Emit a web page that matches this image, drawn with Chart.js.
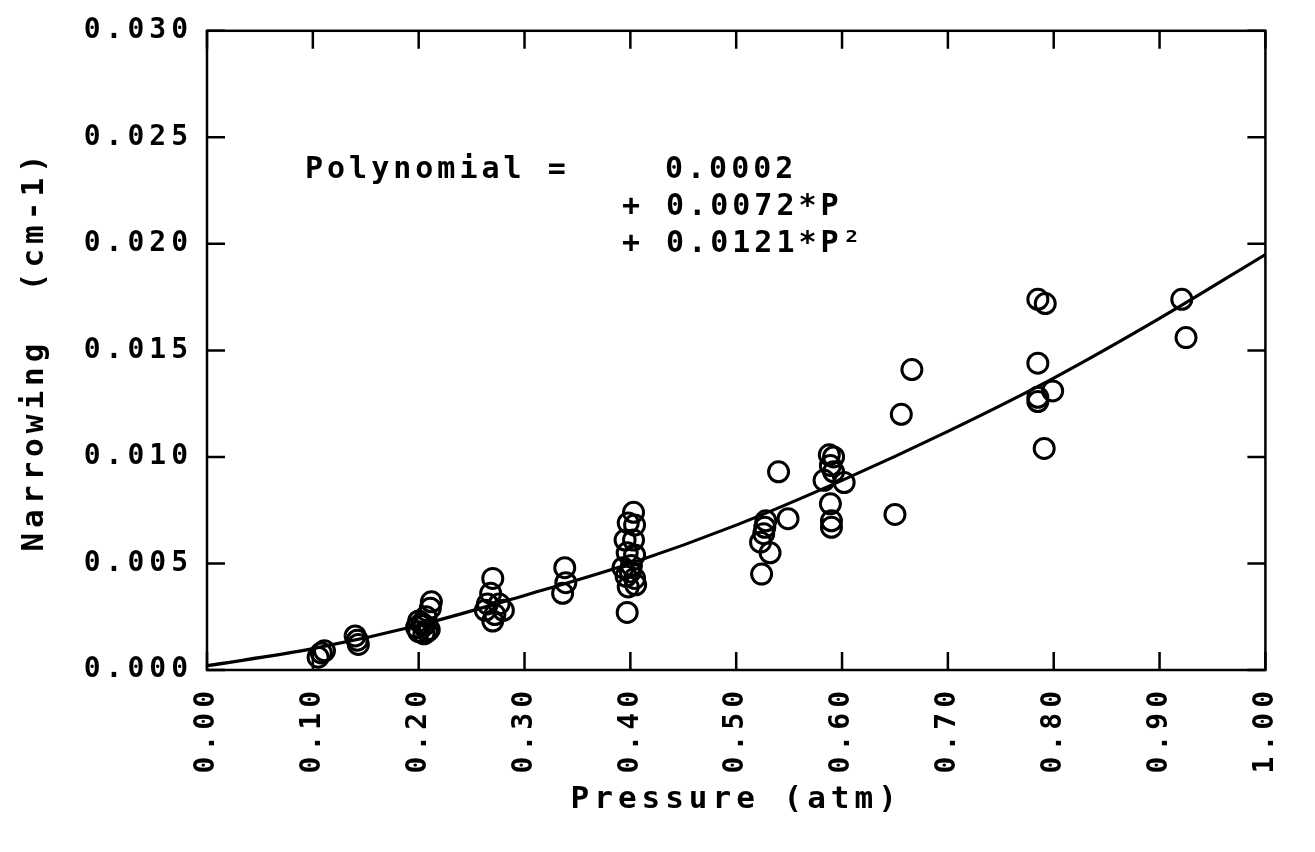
<!DOCTYPE html>
<html>
<head>
<meta charset="utf-8">
<script src="https://cdn.jsdelivr.net/npm/chart.js@4.4.1/dist/chart.umd.min.js"></script>
<style>
  html, body { margin: 0; padding: 0; background: #fff; }
</style>
</head>
<body>
<canvas id="chart" width="1315" height="852"></canvas>
<script>
// measured points
const pressure = [
  0.105, 0.108, 0.111,
  0.140, 0.142, 0.143,
  0.212, 0.211, 0.207, 0.200, 0.205, 0.198, 0.210, 0.200, 0.205, 0.203, 0.208,
  0.270, 0.268, 0.265, 0.276, 0.280, 0.263, 0.270, 0.272,
  0.338, 0.339, 0.336,
  0.403, 0.398, 0.404, 0.395, 0.403, 0.397, 0.404, 0.393, 0.401, 0.396, 0.404, 0.398, 0.405, 0.400, 0.397,
  0.540, 0.549, 0.528, 0.527, 0.526, 0.523, 0.532, 0.524,
  0.588, 0.592, 0.589, 0.583, 0.602, 0.592, 0.589, 0.590, 0.590,
  0.650, 0.656, 0.666,
  0.785, 0.792, 0.785, 0.799, 0.785, 0.785, 0.791,
  0.921, 0.925
];
const narrowing = [
  0.0006, 0.0008, 0.0009,
  0.0016, 0.0014, 0.0012,
  0.0032, 0.0029, 0.0025, 0.0023, 0.0021, 0.0020, 0.0019, 0.0018, 0.0017, 0.0022, 0.0018,
  0.0043, 0.0036, 0.0031, 0.0031, 0.0028, 0.0028, 0.0023, 0.0026,
  0.0048, 0.0041, 0.0036,
  0.0074, 0.0069, 0.0068, 0.0061, 0.0061, 0.0055, 0.0054, 0.0048, 0.0049, 0.0044, 0.0043, 0.0039, 0.0040, 0.0046, 0.0027,
  0.0093, 0.0071, 0.0070, 0.0067, 0.0064, 0.0060, 0.0055, 0.0045,
  0.0101, 0.0100, 0.0096, 0.0089, 0.0088, 0.0093, 0.0078, 0.0070, 0.0067,
  0.0073, 0.0120, 0.0141,
  0.0174, 0.0172, 0.0144, 0.0131, 0.0128, 0.0126, 0.0104,
  0.0174, 0.0156
];

// fitted curve
const fitPressure = [0.0, 0.1, 0.2, 0.3, 0.4, 0.5, 0.6, 0.7, 0.8, 0.9, 1.0];
const fitNarrowing = [0.0002, 0.0010, 0.0021, 0.0035, 0.0050, 0.0068, 0.0089, 0.0112, 0.0137, 0.0165, 0.0195];

const xTicks = [0, 0.1, 0.2, 0.3, 0.4, 0.5, 0.6, 0.7, 0.8, 0.9, 1.0];
const xTickLabels = ['0.00', '0.10', '0.20', '0.30', '0.40', '0.50', '0.60', '0.70', '0.80', '0.90', '1.00'];
const yTicks = [0, 0.005, 0.010, 0.015, 0.020, 0.025, 0.030];
const yTickLabels = ['0.000', '0.005', '0.010', '0.015', '0.020', '0.025', '0.030'];

const noteLines = ['Polynomial =', '0.0002', '+ 0.0072*P', '+ 0.0121*P²'];

const FONT = "'DejaVu Sans Mono', monospace";
const SPACING = '5px';

// white background, boxed frame with inward ticks, fit annotation
const plotterFrame = {
  id: 'plotterFrame',
  beforeUpdate(chart) {
    chart.ctx.letterSpacing = SPACING;
  },
  beforeDraw(chart) {
    const ctx = chart.ctx;
    ctx.save();
    ctx.fillStyle = '#fff';
    ctx.fillRect(0, 0, chart.width, chart.height);
    ctx.restore();
    ctx.letterSpacing = SPACING;
  },
  afterDraw(chart) {
    const { ctx, chartArea: a, scales: { x, y } } = chart;
    const len = 18;
    ctx.save();
    ctx.strokeStyle = '#000';
    ctx.lineWidth = 2.5;
    ctx.strokeRect(a.left, a.top, a.right - a.left, a.bottom - a.top);
    ctx.beginPath();
    x.ticks.forEach(t => {
      const px = x.getPixelForValue(t.value);
      ctx.moveTo(px, a.bottom); ctx.lineTo(px, a.bottom - len);
      ctx.moveTo(px, a.top); ctx.lineTo(px, a.top + len);
    });
    y.ticks.forEach(t => {
      const py = y.getPixelForValue(t.value);
      ctx.moveTo(a.left, py); ctx.lineTo(a.left + len, py);
      ctx.moveTo(a.right, py); ctx.lineTo(a.right - len, py);
    });
    ctx.stroke();

    ctx.fillStyle = '#000';
    ctx.font = 'bold 30px ' + FONT;
    ctx.letterSpacing = '4px';
    ctx.textBaseline = 'middle';
    ctx.textAlign = 'left';
    ctx.fillText(noteLines[0], 305, 170);
    ctx.fillText(noteLines[1], 665, 170);
    ctx.fillText(noteLines[2], 622, 207);
    ctx.fillText(noteLines[3], 622, 244);
    ctx.restore();
  }
};

new Chart(document.getElementById('chart'), {
  type: 'scatter',
  data: {
    datasets: [
      {
        label: 'Measured',
        data: pressure.map((p, i) => ({ x: p, y: narrowing[i] })),
        pointStyle: 'circle',
        pointRadius: 10,
        pointBorderWidth: 3,
        borderColor: '#000',
        backgroundColor: 'rgba(0,0,0,0)'
      },
      {
        label: 'Polynomial',
        type: 'line',
        data: fitPressure.map((p, i) => ({ x: p, y: fitNarrowing[i] })),
        borderColor: '#000',
        borderWidth: 3.2,
        pointRadius: 0,
        cubicInterpolationMode: 'monotone',
        fill: false
      }
    ]
  },
  options: {
    responsive: false,
    devicePixelRatio: 1,
    animation: false,
    layout: { padding: { top: 30, right: 32, left: 0, bottom: 0 } },
    plugins: {
      legend: { display: false },
      tooltip: { enabled: false }
    },
    scales: {
      x: {
        type: 'linear',
        min: 0,
        max: 1,
        grid: { display: false, drawTicks: false },
        border: { display: false },
        afterBuildTicks: s => { s.ticks = xTicks.map(v => ({ value: v })); },
        afterFit: s => { s.height = 182; },
        ticks: {
          autoSkip: false,
          minRotation: 90,
          maxRotation: 90,
          padding: 16,
          color: '#000',
          font: { family: FONT, size: 28, weight: 'bold' },
          callback: (v, i) => xTickLabels[i]
        },
        title: {
          display: true,
          text: 'Pressure (atm)',
          color: '#000',
          font: { family: FONT, size: 31, weight: 'bold' },
          padding: { top: 0, bottom: 33 }
        }
      },
      y: {
        type: 'linear',
        min: 0,
        max: 0.03,
        grid: { display: false, drawTicks: false },
        border: { display: false },
        afterBuildTicks: s => { s.ticks = yTicks.map(v => ({ value: v })); },
        afterFit: s => { s.width = 207; },
        ticks: {
          autoSkip: false,
          padding: 14,
          color: '#000',
          font: { family: FONT, size: 28, weight: 'bold' },
          callback: (v, i) => yTickLabels[i]
        },
        title: {
          display: true,
          text: 'Narrowing  (cm-1)',
          color: '#000',
          font: { family: FONT, size: 31, weight: 'bold' },
          padding: { top: 16, bottom: 0 }
        }
      }
    }
  },
  plugins: [plotterFrame]
});
</script>
</body>
</html>
